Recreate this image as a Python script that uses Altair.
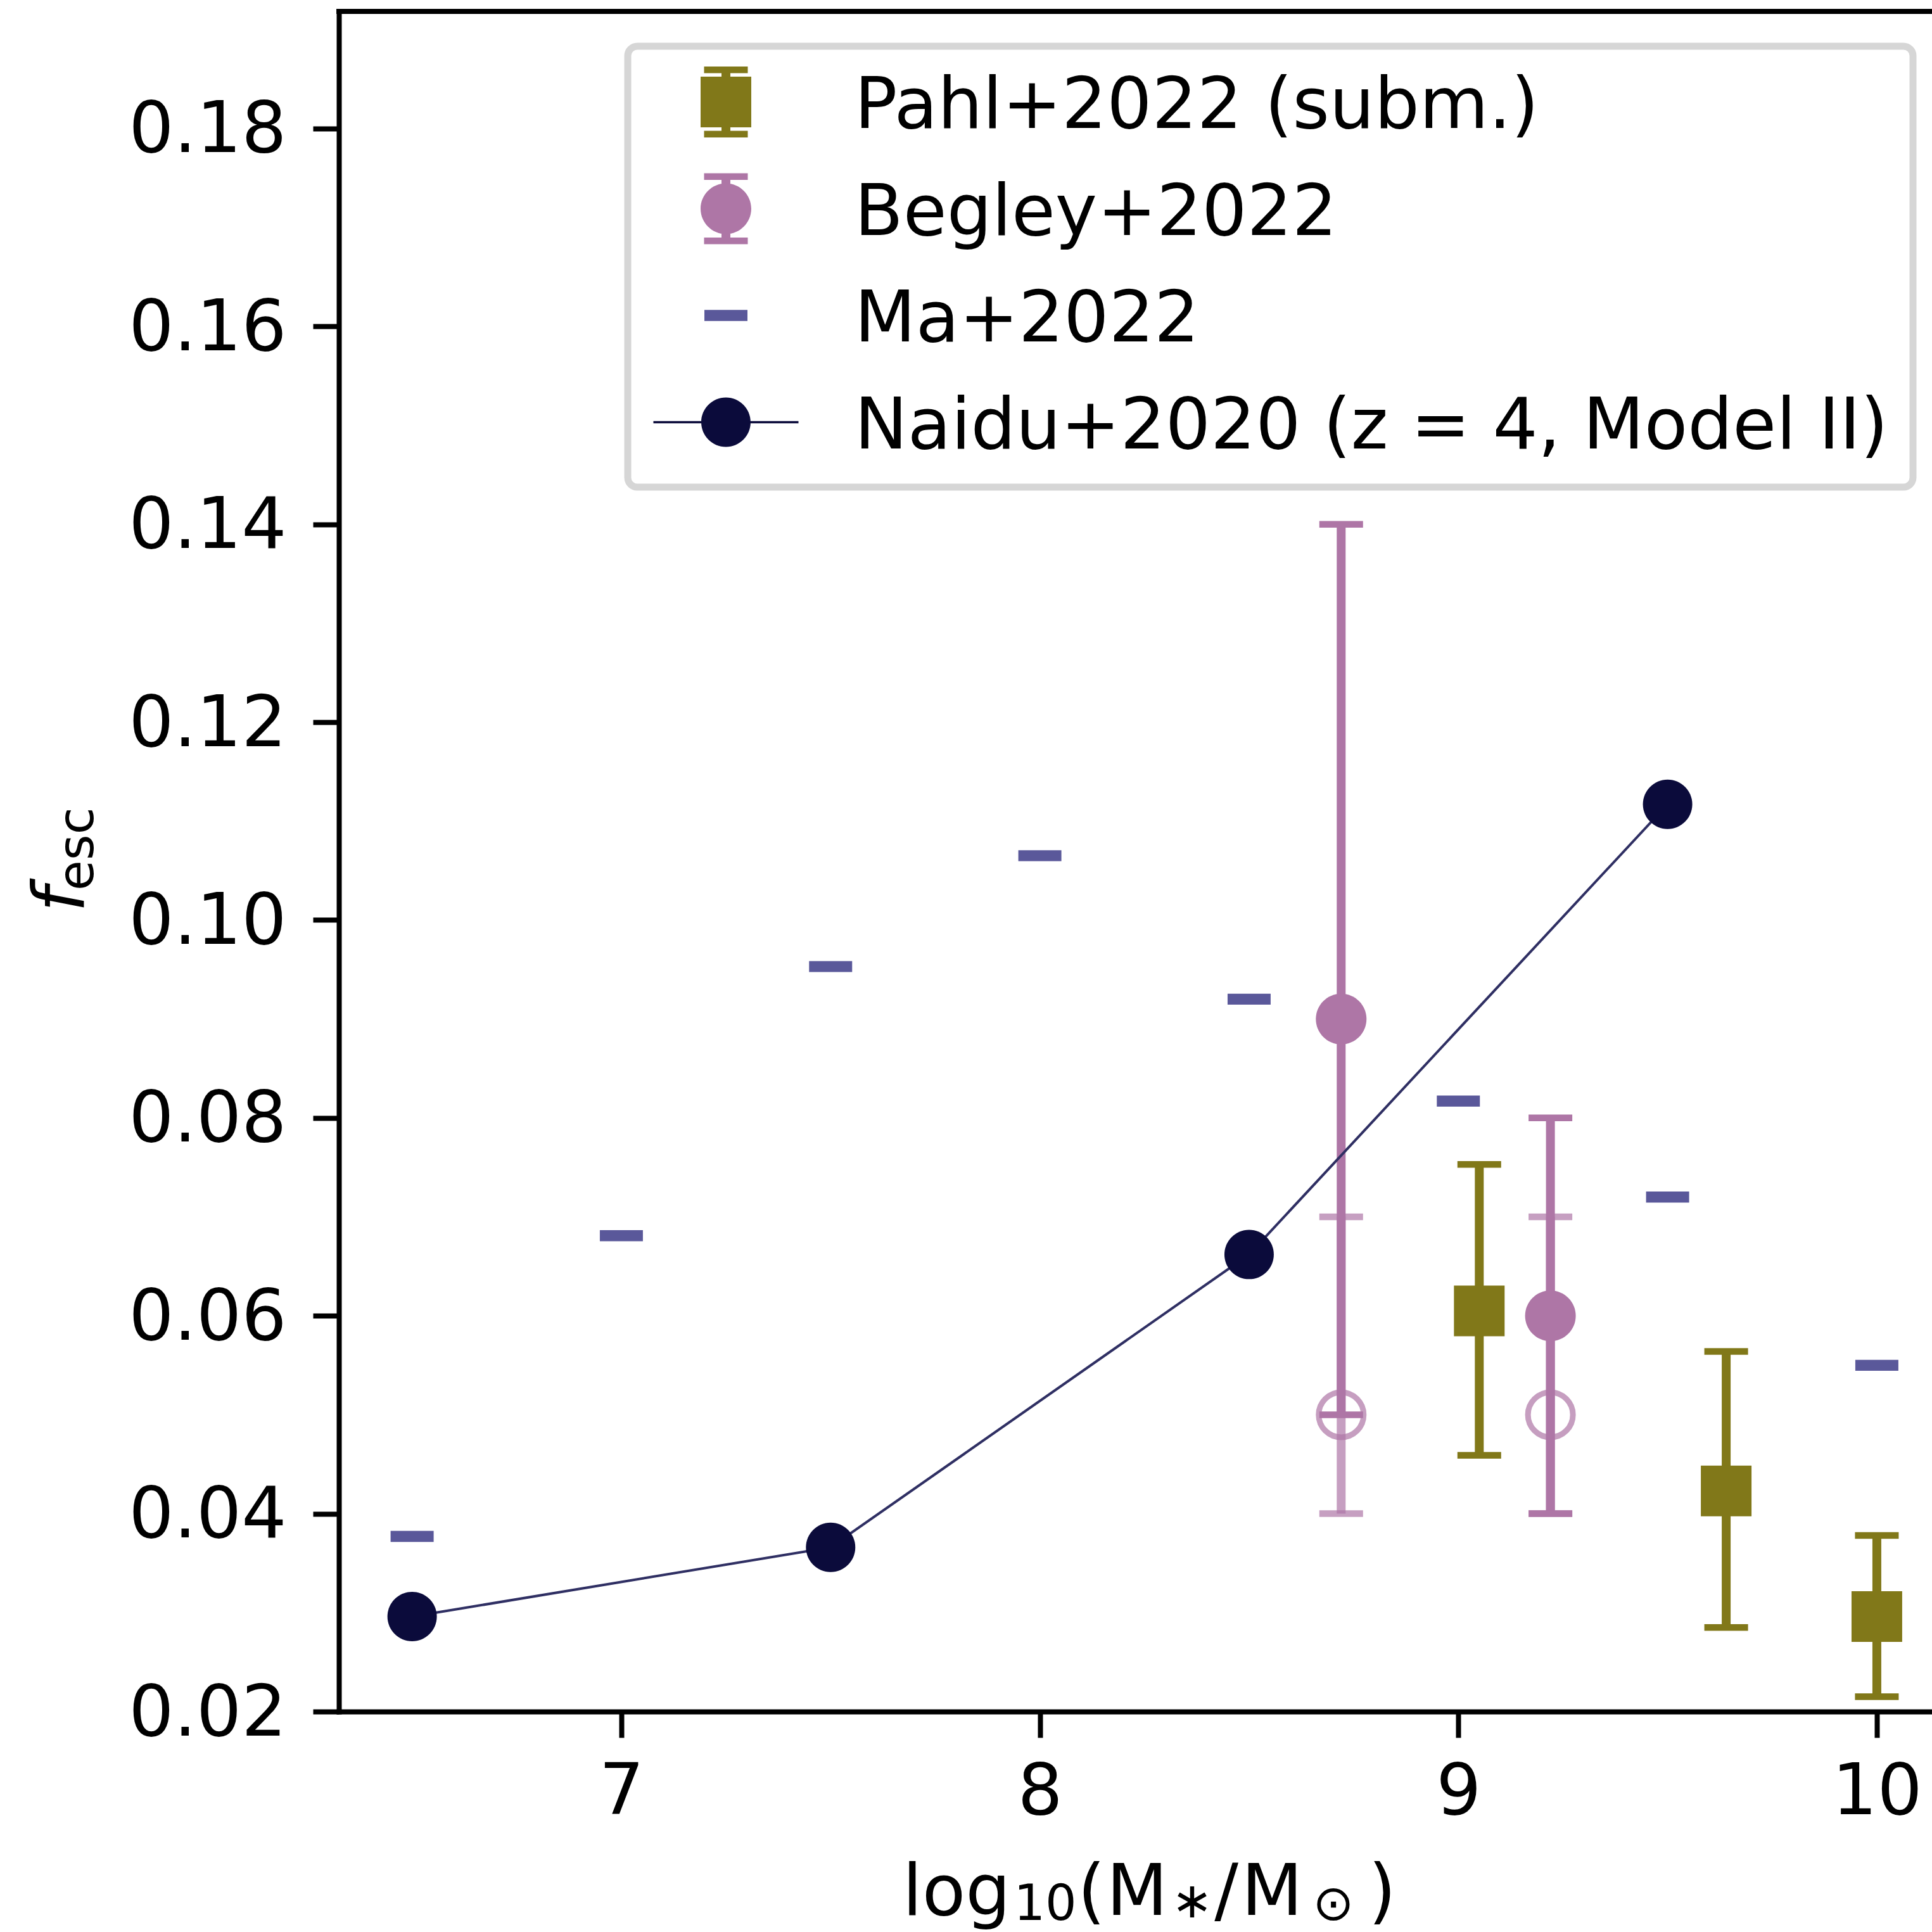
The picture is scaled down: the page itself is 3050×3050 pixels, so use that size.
import altair as alt
import pandas as pd

# ---- escape fraction vs. stellar mass --------------------------------------
# Pahl+2022 (squares with error bars)
pahl_mass = [9.05, 9.64, 10.0]
pahl_fesc = [0.0605, 0.0423, 0.0296]
pahl_lo = [0.0459, 0.0285, 0.0215]
pahl_hi = [0.0753, 0.0564, 0.0378]

# Begley+2022 (filled circles)
begley_mass = [8.72, 9.22]
begley_fesc = [0.090, 0.060]
begley_lo = [0.050, 0.040]
begley_hi = [0.140, 0.080]

# Begley+2022 alternative estimates (open circles, faded)
begley_alt_fesc = [0.050, 0.050]
begley_alt_lo = [0.040, 0.040]
begley_alt_hi = [0.070, 0.070]

# Ma+2022 (dashes)
ma_mass = [6.5, 7.0, 7.5, 8.0, 8.5, 9.0, 9.5, 10.0]
ma_fesc = [0.0377, 0.0681, 0.0953, 0.1065, 0.0920, 0.0817, 0.0720, 0.0550]

# Naidu+2020, z = 4, Model II (line with dots)
naidu_mass = [6.5, 7.5, 8.5, 9.5]
naidu_fesc = [0.0296, 0.0366, 0.0662, 0.1117]

series = ["Pahl+2022 (subm.)", "Begley+2022", "Ma+2022", "Naidu+2020 (z = 4, Model II)"]
series_colors = ["#817819", "#ae76a6", "#5a589a", "#0b0b3b"]
naidu_line_color = "#2f2f63"

x_ticks = [7, 8, 9, 10]
y_ticks = [0.02, 0.04, 0.06, 0.08, 0.10, 0.12, 0.14, 0.16, 0.18]
x_limits = [6.325, 10.1318]
y_limits = [0.02, 0.19184]

# ---- geometry ---------------------------------------------------------------
W, H = 2515, 2684
FONT = "DejaVu Sans"
SYM = 12544  # symbol area -> one path unit = 56 px
PAHL, BEGLEY, MA, NAIDU = series_colors


def f(v):
    return f"{round(v, 4):g}"


def rect(x0, y0, x1, y1):
    return f"M{f(x0)},{f(y0)}H{f(x1)}V{f(y1)}H{f(x0)}Z"


def disc(r, cy=0.0):
    return (f"M{f(-r)},{f(cy)}A{f(r)},{f(r)},0,1,1,{f(r)},{f(cy)}"
            f"A{f(r)},{f(r)},0,1,1,{f(-r)},{f(cy)}Z")


# shapes used for the data points
square_path = rect(-0.714, -0.714, 0.714, 0.714)
dot_path = disc(0.714)
dash_path = rect(-0.607, -0.155, 0.607, 0.155)
naidu_dot_path = disc(0.696)

# legend glyphs (marker + error bar / line), shared extent for even rows
s = -0.125
extent = f"M-2.05,{f(-1 + s)}M2.05,{f(1 + s)}"
ebar = (rect(-0.125, -0.906 + s, 0.125, 0.906 + s)
        + rect(-0.616, -1 + s, 0.616, -0.8125 + s)
        + rect(-0.616, 0.8125 + s, 0.616, 1 + s))
glyphs = [
    extent + rect(-0.714, -0.714 + s, 0.714, 0.714 + s) + ebar,
    extent + disc(0.714, s) + ebar,
    extent + rect(-0.607, -0.155 + s, 0.607, 0.155 + s),
    extent + rect(-2.045, -0.03 + s, 2.045, 0.03 + s) + disc(0.696, s),
]

# ---- tables -----------------------------------------------------------------
pahl = pd.DataFrame({"mass": pahl_mass, "fesc": pahl_fesc, "lo": pahl_lo, "hi": pahl_hi})
begley = pd.DataFrame({"mass": begley_mass, "fesc": begley_fesc, "lo": begley_lo, "hi": begley_hi})
begley_alt = pd.DataFrame({"mass": begley_mass, "fesc": begley_alt_fesc,
                           "lo": begley_alt_lo, "hi": begley_alt_hi})
ma = pd.DataFrame({"mass": ma_mass, "fesc": ma_fesc})
naidu = pd.DataFrame({"mass": naidu_mass, "fesc": naidu_fesc})
key_table = pd.DataFrame({"series": series})

# ---- scales / axes ----------------------------------------------------------
x_scale = alt.Scale(domain=x_limits, nice=False, zero=False)
y_scale = alt.Scale(domain=y_limits, nice=False, zero=False)
axis_style = dict(grid=False, title=None, labelFont=FONT, labelFontSize=112,
                  labelColor="black", labelLimit=1000, tickColor="black",
                  tickSize=41, tickWidth=8, domainColor="black", domainWidth=8,
                  domainCap="square", labelFlush=False, labelOverlap=False)
x_axis = alt.Axis(values=x_ticks, format="d", labelPadding=32, **axis_style)
y_axis = alt.Axis(values=y_ticks, format=".2f", labelPadding=42, labelOffset=3, **axis_style)


def X(field="mass"):
    return alt.X(f"{field}:Q", scale=x_scale, axis=x_axis)


def Y(field="fesc"):
    return alt.Y(f"{field}:Q", scale=y_scale, axis=y_axis)


def error_bars(df, color, opacity=1.0):
    bars = alt.Chart(df).mark_rule(color=color, strokeWidth=14, opacity=opacity).encode(
        x=X(), y=Y("lo"), y2="hi:Q")
    caps = alt.Chart(df).transform_fold(["lo", "hi"], as_=["end", "val"]).mark_tick(
        color=color, orient="horizontal", size=69, thickness=10.5, opacity=opacity
    ).encode(x=X(), y=Y("val"))
    return [bars, caps]


def markers(df, path, color):
    return alt.Chart(df).mark_point(
        shape=path, filled=True, size=SYM, strokeWidth=0, color=color, opacity=1
    ).encode(x=X(), y=Y())


# ---- frame ------------------------------------------------------------------
top_spine = alt.Chart(alt.Data(values=[{}])).mark_rule(
    color="black", strokeWidth=8, strokeCap="square"
).encode(
    x=alt.X(datum=x_limits[0], type="quantitative", scale=x_scale, axis=x_axis),
    x2=alt.X2(datum=x_limits[1]),
    y=alt.Y(datum=y_limits[1], type="quantitative", scale=y_scale, axis=y_axis),
)

# ---- faded Begley estimates ---------------------------------------------------
alt_layers = error_bars(begley_alt, BEGLEY, 0.7) + [
    alt.Chart(begley_alt).mark_point(
        shape="circle", filled=False, size=5041, strokeWidth=9, color=BEGLEY, opacity=0.7
    ).encode(x=X(), y=Y())
]

naidu_line = alt.Chart(naidu).mark_line(color=naidu_line_color, strokeWidth=4).encode(x=X(), y=Y())

# legend: one entry per source, glyphs mirror the plotted symbols
key = alt.Legend(
    title=None, orient="none", legendX=456, legendY=55,
    padding=39, fillColor="white", strokeColor="#d6d6d6", cornerRadius=15,
    labelFont=FONT, labelFontSize=112, labelColor="black", labelLimit=2500,
    labelOffset=147, symbolOffset=60, symbolSize=SYM, symbolStrokeWidth=0,
    symbolOpacity=1, rowPadding=49.5,
)
key_layer = alt.Chart(key_table).mark_point(
    filled=True, opacity=0, size=SYM, strokeWidth=0
).encode(
    color=alt.Color("series:N", scale=alt.Scale(domain=series, range=series_colors), legend=key),
    shape=alt.Shape("series:N", scale=alt.Scale(domain=series, range=glyphs), legend=key),
)


# ---- axis titles --------------------------------------------------------------
def piece(text, x, y, size, angle=0, align="center", style="normal"):
    return alt.Chart(alt.Data(values=[{}])).mark_text(
        text=text, font=FONT, fontSize=size, fontStyle=style, color="black",
        align=align, baseline="alphabetic", angle=angle,
    ).encode(x=alt.value(x), y=alt.value(y))


x_title = [
    piece("log", 975, 3005, 112),
    piece("10", 1115, 3013, 78),
    piece("(", 1188, 3005, 112),
    piece("M", 1260, 3005, 112),
    piece("\u2217", 1347, 3009, 78),
    piece("/", 1401, 3005, 112),
    piece("M", 1473, 3005, 112),
    piece("\u2299", 1570, 3013, 78),
    piece(")", 1647, 3005, 112),
]
y_title = [
    piece("f", -403, 1422, 112, angle=270, align="left", style="italic"),
    piece("esc", -388, 1388, 78, angle=270, align="left"),
]

chart = alt.layer(
    top_spine,
    *alt_layers,
    *error_bars(pahl, PAHL),
    *error_bars(begley, BEGLEY),
    naidu_line,
    markers(pahl, square_path, PAHL),
    markers(begley, dot_path, BEGLEY),
    markers(ma, dash_path, MA),
    markers(naidu, naidu_dot_path, NAIDU),
    key_layer,
    *x_title,
    *y_title,
).properties(
    width=W, height=H,
    padding={"left": 535, "top": 18, "right": 0, "bottom": 348},
    autosize=alt.AutoSizeParams(type="none"),
    background="white",
).configure(font=FONT).configure_view(strokeWidth=0).configure_legend(strokeWidth=11)

chart.save("out.html", embed_options={"renderer": "svg", "actions": False})
